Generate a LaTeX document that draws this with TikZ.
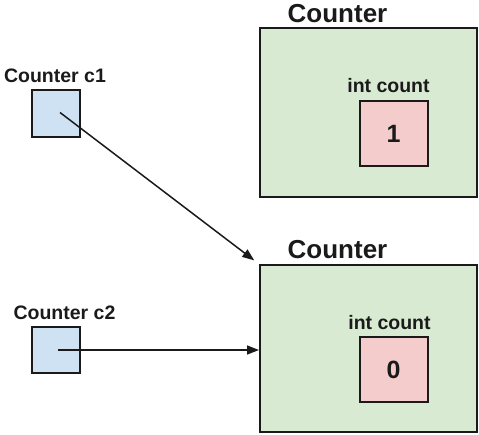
\documentclass[tikz,border=0pt]{standalone}
\usepackage{fontspec}
\setmainfont{Liberation Sans}
\usetikzlibrary{arrows.meta}
\definecolor{objgreen}{HTML}{D9EAD3}
\definecolor{refblue}{HTML}{CFE2F3}
\definecolor{valpink}{HTML}{F4CCCC}
\definecolor{ink}{HTML}{1A1A1A}
\tikzset{
  box/.style={draw=ink, line width=2pt, inner sep=0pt, rectangle},
  objbox/.style={box, fill=objgreen, minimum width=217pt},
  refbox/.style={box, fill=refblue, minimum width=48pt, minimum height=47pt},
  valbox/.style={box, fill=valpink, minimum width=68pt, minimum height=65pt,
    font=\bfseries\fontsize{25}{25}\selectfont, text=ink},
  title/.style={inner sep=0pt, font=\bfseries\fontsize{26}{26}\selectfont, text=ink},
  lbl/.style={inner sep=0pt, font=\bfseries\fontsize{19.5}{19.5}\selectfont, text=ink},
  ptr/.style={draw=ink, line width=1.5pt, -{Triangle[length=12pt,width=9pt]}}
}
\begin{document}
\begin{tikzpicture}[x=1pt,y=-1pt]
\useasboundingbox (0,0) rectangle (479,434);
% objects
\node[objbox, minimum height=169pt] (obj1) at (368.5,112.5) {};
\node[objbox, minimum height=167pt] (obj2) at (368.5,348.5) {};
\node[title] (t1) at (337.5,14) {Counter};
\node[title] (t2) at (337.5,250) {Counter};
% fields
\node[valbox] (v1) at (393.5,133.5) {1};
\node[valbox] (v2) at (393.5,369.5) {0};
\node[lbl] (f1) at (388.5,86) {int count};
\node[lbl] (f2) at (389.5,323) {int count};
% references
\node[refbox] (c1) at (56,113.5) {};
\node[refbox, minimum height=46pt] (c2) at (56,350) {};
\node[lbl] (l1) at (55,76) {Counter c1};
\node[lbl] (l2) at (64.5,312.5) {Counter c2};
% pointers
\draw[ptr, shorten >=6pt] ([shift={(4,-1)}]c1.center) -- (obj2.north west);
\draw[ptr] ([xshift=2pt]c2.center) -- (c2.center -| obj2.west);
\end{tikzpicture}
\end{document}
